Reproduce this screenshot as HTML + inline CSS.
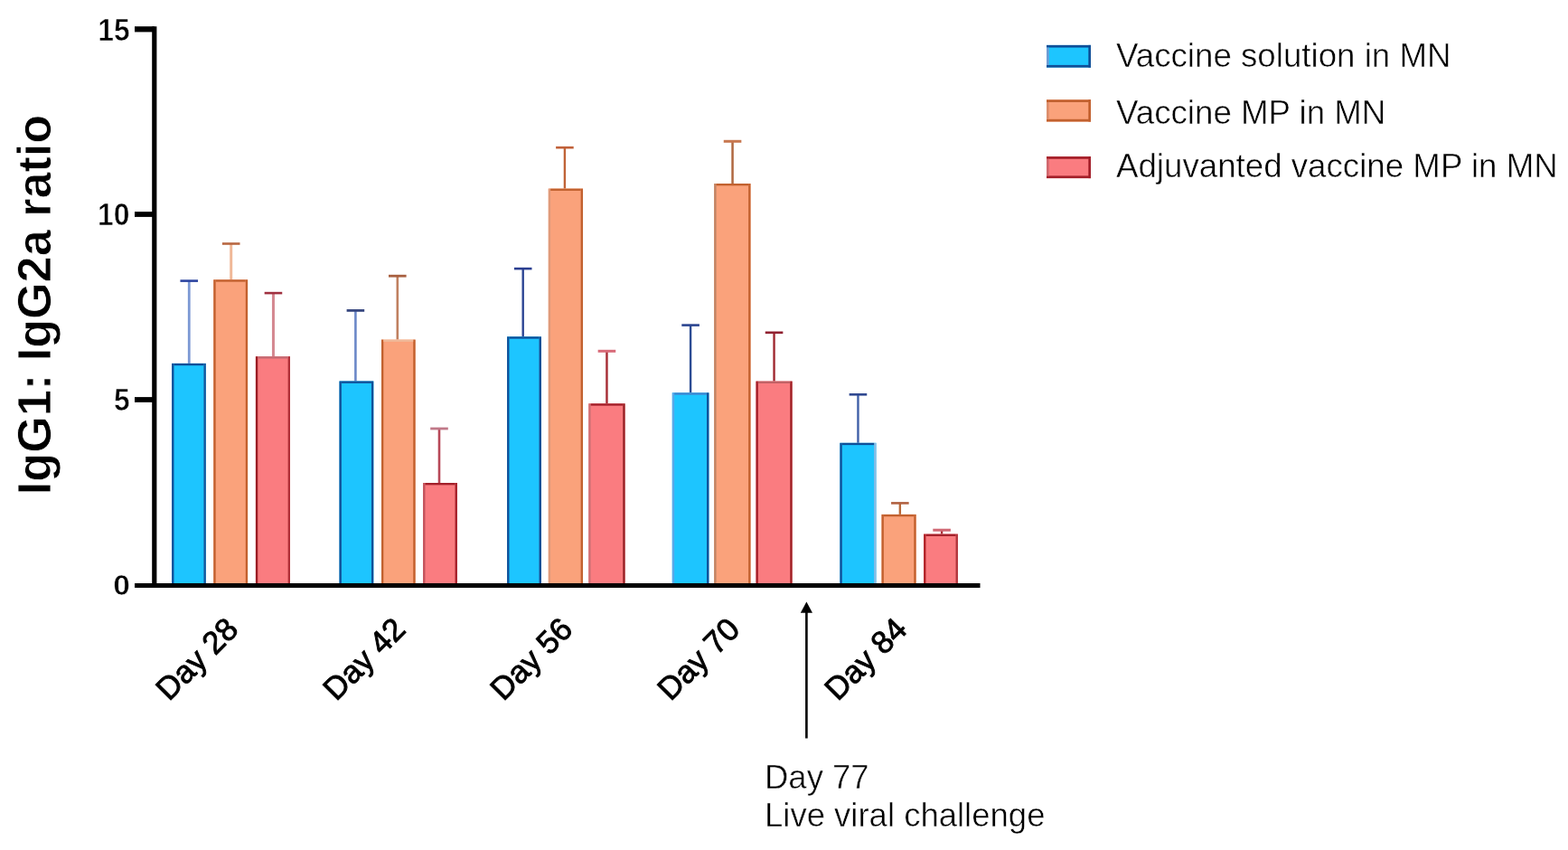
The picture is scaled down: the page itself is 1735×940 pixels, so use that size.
<!DOCTYPE html>
<html><head><meta charset="utf-8"><title>IgG1: IgG2a ratio</title>
<style>
html,body{margin:0;padding:0;background:#fff;}
body{width:1735px;height:940px;overflow:hidden;}
svg{display:block;}
</style></head><body>
<svg width="1735" height="940" viewBox="0 0 1735 940">
<style>
text { font-family: "Liberation Sans", Arial, sans-serif; fill:#000; }
.tick { font-size: 34.6px; font-weight: bold; stroke:#fff; stroke-width:0.6px; }
.ylab { font-size: 52.2px; font-weight: bold; stroke:#fff; stroke-width:0.75px; }
.day { font-size: 35px; stroke:#000; stroke-width:0.9px; }
.leg { font-size: 36.7px; stroke:#fff; stroke-width:0.5px; }
.ann { font-size: 36.5px; stroke:#fff; stroke-width:0.5px; }
</style>
<rect width="1735" height="940" fill="#fff"/>
<line x1="209.25" y1="401.90" x2="209.25" y2="310.60" stroke="#7c98d4" stroke-width="2.8"/><line x1="199.45" y1="310.60" x2="219.05" y2="310.60" stroke="#2c44a0" stroke-width="2.6"/><rect x="190.10" y="401.90" width="37.70" height="245.60" fill="#1dc5ff"/><rect x="190.10" y="401.90" width="2.35" height="245.60" fill="#104f98"/><rect x="225.45" y="401.90" width="2.35" height="245.60" fill="#18569c"/><rect x="192.45" y="401.90" width="33.00" height="2.35" fill="#104f98"/><line x1="255.70" y1="309.30" x2="255.70" y2="269.50" stroke="#f0b898" stroke-width="3.0"/><line x1="245.90" y1="269.50" x2="265.50" y2="269.50" stroke="#b86640" stroke-width="2.6"/><rect x="236.30" y="309.30" width="37.80" height="338.20" fill="#faa27b"/><rect x="236.30" y="309.30" width="2.35" height="338.20" fill="#c2612f"/><rect x="271.75" y="309.30" width="2.35" height="338.20" fill="#c2612f"/><rect x="238.65" y="309.30" width="33.10" height="2.35" fill="#c2612f"/><line x1="302.45" y1="394.20" x2="302.45" y2="324.10" stroke="#d48890" stroke-width="3.0"/><line x1="292.65" y1="324.10" x2="312.25" y2="324.10" stroke="#a03040" stroke-width="2.6"/><rect x="282.90" y="394.20" width="38.10" height="253.30" fill="#fa7c80"/><rect x="282.90" y="394.20" width="2.35" height="253.30" fill="#9a1c24"/><rect x="318.65" y="394.20" width="2.35" height="253.30" fill="#b03038"/><rect x="285.25" y="394.20" width="33.40" height="2.35" fill="#c46a72"/><line x1="393.40" y1="421.50" x2="393.40" y2="343.40" stroke="#6c88c8" stroke-width="2.6"/><line x1="383.60" y1="343.40" x2="403.20" y2="343.40" stroke="#384880" stroke-width="2.8"/><rect x="375.50" y="421.50" width="37.80" height="226.00" fill="#1dc5ff"/><rect x="375.50" y="421.50" width="2.35" height="226.00" fill="#104f98"/><rect x="410.95" y="421.50" width="2.35" height="226.00" fill="#104f98"/><rect x="377.85" y="421.50" width="33.10" height="2.35" fill="#104f98"/><line x1="439.80" y1="375.60" x2="439.80" y2="305.20" stroke="#c08060" stroke-width="2.6"/><line x1="430.00" y1="305.20" x2="449.60" y2="305.20" stroke="#a86040" stroke-width="2.8"/><rect x="422.00" y="375.60" width="37.60" height="271.90" fill="#faa27b"/><rect x="422.00" y="375.60" width="2.35" height="271.90" fill="#c2612f"/><rect x="457.25" y="375.60" width="2.35" height="271.90" fill="#c2612f"/><rect x="424.35" y="375.60" width="32.90" height="2.35" fill="#f0b898"/><line x1="486.00" y1="534.00" x2="486.00" y2="474.00" stroke="#b84858" stroke-width="2.6"/><line x1="476.20" y1="474.00" x2="495.80" y2="474.00" stroke="#c07888" stroke-width="2.8"/><rect x="468.10" y="534.00" width="37.80" height="113.50" fill="#fa7c80"/><rect x="468.10" y="534.00" width="2.35" height="113.50" fill="#c2545c"/><rect x="503.55" y="534.00" width="2.35" height="113.50" fill="#a3202a"/><rect x="470.45" y="534.00" width="33.10" height="2.35" fill="#a3202a"/><line x1="578.70" y1="372.30" x2="578.70" y2="297.10" stroke="#2c4494" stroke-width="2.4"/><line x1="568.90" y1="297.10" x2="588.50" y2="297.10" stroke="#2a3e90" stroke-width="2.6"/><rect x="561.10" y="372.30" width="37.80" height="275.20" fill="#1dc5ff"/><rect x="561.10" y="372.30" width="2.35" height="275.20" fill="#104f98"/><rect x="596.55" y="372.30" width="2.35" height="275.20" fill="#164a92"/><rect x="563.45" y="372.30" width="33.10" height="2.35" fill="#104f98"/><line x1="624.90" y1="208.60" x2="624.90" y2="163.20" stroke="#c06438" stroke-width="2.4"/><line x1="615.10" y1="163.20" x2="634.70" y2="163.20" stroke="#c06038" stroke-width="2.6"/><rect x="606.80" y="208.60" width="38.20" height="438.90" fill="#faa27b"/><rect x="606.80" y="208.60" width="2.35" height="438.90" fill="#e09a7a"/><rect x="642.65" y="208.60" width="2.35" height="438.90" fill="#c2612f"/><rect x="609.15" y="208.60" width="33.50" height="2.35" fill="#c2612f"/><line x1="671.45" y1="446.30" x2="671.45" y2="388.30" stroke="#a83038" stroke-width="2.5"/><line x1="661.65" y1="388.30" x2="681.25" y2="388.30" stroke="#d86a78" stroke-width="3.0"/><rect x="651.30" y="446.30" width="40.30" height="201.20" fill="#fa7c80"/><rect x="651.30" y="446.30" width="2.35" height="201.20" fill="#d07074"/><rect x="689.25" y="446.30" width="2.35" height="201.20" fill="#962226"/><rect x="653.65" y="446.30" width="35.60" height="2.35" fill="#a3202a"/><line x1="764.10" y1="434.30" x2="764.10" y2="359.60" stroke="#2c4c94" stroke-width="2.4"/><line x1="754.30" y1="359.60" x2="773.90" y2="359.60" stroke="#2a4490" stroke-width="2.6"/><rect x="743.80" y="434.30" width="40.60" height="213.20" fill="#1dc5ff"/><rect x="743.80" y="434.30" width="2.35" height="213.20" fill="#5aa8e8"/><rect x="782.05" y="434.30" width="2.35" height="213.20" fill="#104f98"/><rect x="746.15" y="434.30" width="35.90" height="2.35" fill="#3f86d0"/><line x1="810.55" y1="203.00" x2="810.55" y2="156.30" stroke="#b06840" stroke-width="2.5"/><line x1="800.75" y1="156.30" x2="820.35" y2="156.30" stroke="#c87850" stroke-width="3.0"/><rect x="790.20" y="203.00" width="40.30" height="444.50" fill="#faa27b"/><rect x="790.20" y="203.00" width="2.35" height="444.50" fill="#c08464"/><rect x="828.15" y="203.00" width="2.35" height="444.50" fill="#c2612f"/><rect x="792.55" y="203.00" width="35.60" height="2.35" fill="#c2612f"/><line x1="856.55" y1="421.60" x2="856.55" y2="367.80" stroke="#a02830" stroke-width="2.4"/><line x1="846.75" y1="367.80" x2="866.35" y2="367.80" stroke="#902030" stroke-width="2.6"/><rect x="836.50" y="421.60" width="40.10" height="225.90" fill="#fa7c80"/><rect x="836.50" y="421.60" width="2.35" height="225.90" fill="#a3202a"/><rect x="874.25" y="421.60" width="2.35" height="225.90" fill="#9e2026"/><rect x="838.85" y="421.60" width="35.40" height="2.35" fill="#c06064"/><line x1="949.45" y1="489.80" x2="949.45" y2="436.30" stroke="#4060a8" stroke-width="2.4"/><line x1="939.65" y1="436.30" x2="959.25" y2="436.30" stroke="#304890" stroke-width="2.6"/><rect x="929.40" y="489.80" width="40.10" height="157.70" fill="#1dc5ff"/><rect x="929.40" y="489.80" width="2.35" height="157.70" fill="#104f98"/><rect x="967.15" y="489.80" width="2.35" height="157.70" fill="#8cbce4"/><rect x="931.75" y="489.80" width="35.40" height="2.35" fill="#104f98"/><line x1="995.85" y1="568.90" x2="995.85" y2="556.40" stroke="#b86838" stroke-width="2.4"/><line x1="986.05" y1="556.40" x2="1005.65" y2="556.40" stroke="#b06040" stroke-width="2.6"/><rect x="975.50" y="568.90" width="38.10" height="78.60" fill="#faa27b"/><rect x="975.50" y="568.90" width="2.35" height="78.60" fill="#c2612f"/><rect x="1011.25" y="568.90" width="2.35" height="78.60" fill="#c2612f"/><rect x="977.85" y="568.90" width="33.40" height="2.35" fill="#c2612f"/><line x1="1042.10" y1="590.60" x2="1042.10" y2="586.20" stroke="#a83038" stroke-width="2.4"/><line x1="1032.30" y1="586.20" x2="1051.90" y2="586.20" stroke="#d06874" stroke-width="3.0"/><rect x="1022.10" y="590.60" width="37.80" height="56.90" fill="#fa7c80"/><rect x="1022.10" y="590.60" width="2.35" height="56.90" fill="#b02226"/><rect x="1057.55" y="590.60" width="2.35" height="56.90" fill="#b0363c"/><rect x="1024.45" y="590.60" width="33.10" height="2.35" fill="#a3202a"/>
<line x1="170.8" y1="29.2" x2="170.8" y2="650" stroke="#000" stroke-width="5.2"/>
<line x1="149" y1="647.5" x2="1084.5" y2="647.5" stroke="#000" stroke-width="5"/>
<line x1="149" y1="32.3" x2="171" y2="32.3" stroke="#000" stroke-width="6.2"/>
<line x1="149" y1="237.0" x2="171" y2="237.0" stroke="#000" stroke-width="5.8"/>
<line x1="149" y1="442.0" x2="171" y2="442.0" stroke="#000" stroke-width="5.8"/>
<text transform="translate(143.6,44.6) scale(0.92,1)" text-anchor="end" class="tick">15</text>
<text transform="translate(143.4,249.2) scale(0.92,1)" text-anchor="end" class="tick">10</text>
<text transform="translate(143.6,453.7) scale(0.92,1)" text-anchor="end" class="tick">5</text>
<text transform="translate(143.8,658.2) scale(0.97,0.92)" text-anchor="end" class="tick">0</text>
<text transform="translate(56,337) rotate(-90)" text-anchor="middle" class="ylab">IgG1: IgG2a ratio</text>
<text x="0" y="0" transform="translate(265.5,697.9) rotate(-45)" text-anchor="end" class="day">Day 28</text><text x="0" y="0" transform="translate(450.5,697.9) rotate(-45)" text-anchor="end" class="day">Day 42</text><text x="0" y="0" transform="translate(635.5,697.9) rotate(-45)" text-anchor="end" class="day">Day 56</text><text x="0" y="0" transform="translate(820.5,697.9) rotate(-45)" text-anchor="end" class="day">Day 70</text><text x="0" y="0" transform="translate(1005.5,697.9) rotate(-45)" text-anchor="end" class="day">Day 84</text>
<line x1="892.4" y1="676" x2="892.4" y2="816.5" stroke="#000" stroke-width="2.6"/>
<path d="M892.4 665.5 L899 677.8 L885.8 677.8 Z" fill="#000"/>
<text x="846" y="872.2" class="ann">Day 77</text>
<text x="846" y="914.3" class="ann">Live viral challenge</text>
<rect x="1158.0" y="49.9" width="49.0" height="24.70" fill="#1dc5ff"/><rect x="1158.0" y="49.9" width="49.0" height="2.7" fill="#104f98"/><rect x="1158.0" y="71.90" width="49.0" height="2.7" fill="#104f98"/><rect x="1204.30" y="49.9" width="2.7" height="24.70" fill="#104f98"/><rect x="1158.0" y="52.60" width="2.7" height="19.30" fill="#6e9cd4"/><text x="1235" y="74.3" class="leg">Vaccine solution in MN</text><rect x="1158.0" y="110.3" width="49.0" height="24.20" fill="#faa27b"/><rect x="1158.0" y="110.3" width="49.0" height="2.7" fill="#c2612f"/><rect x="1158.0" y="131.80" width="49.0" height="2.7" fill="#c2612f"/><rect x="1204.30" y="110.3" width="2.7" height="24.20" fill="#c2612f"/><rect x="1158.0" y="113.00" width="2.7" height="18.80" fill="#dc8e6c"/><text x="1235" y="136.7" class="leg">Vaccine MP in MN</text><rect x="1158.0" y="173.1" width="49.0" height="24.00" fill="#fa7c80"/><rect x="1158.0" y="173.1" width="49.0" height="2.7" fill="#a3202a"/><rect x="1158.0" y="194.40" width="49.0" height="2.7" fill="#a3202a"/><rect x="1204.30" y="173.1" width="2.7" height="24.00" fill="#a3202a"/><rect x="1158.0" y="175.80" width="2.7" height="18.60" fill="#d0686e"/><text x="1235" y="196.3" class="leg">Adjuvanted vaccine MP in MN</text>
</svg>
</body></html>
